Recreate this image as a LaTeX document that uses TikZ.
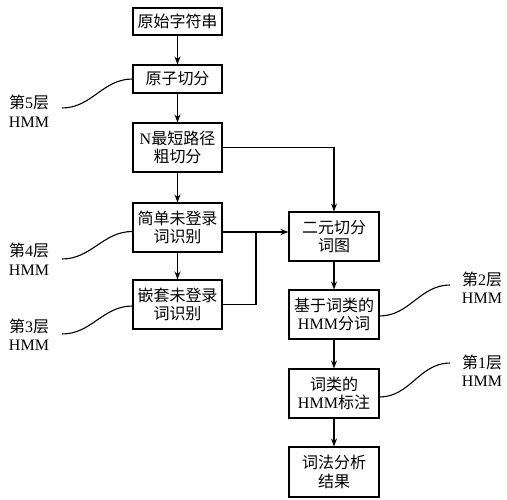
\documentclass[tikz,border=0pt]{standalone}
\usepackage{fontspec}
\setmainfont{Liberation Serif}
\newfontfamily\cjkfont{Noto Sans CJK SC}
\newcommand\zhs[1]{{\cjkfont #1}}
\usetikzlibrary{arrows.meta}
\begin{document}
\begin{tikzpicture}[x=1pt,y=-1pt,
  font=\fontsize{16}{18.5}\selectfont,
  box/.style={draw, line width=1.1pt, minimum width=89pt, inner sep=0pt, align=center},
  arr/.style={-{Stealth[length=8pt,width=6pt]}, line width=1.1pt},
  lnk/.style={line width=1.1pt},
  lab/.style={align=center, inner sep=0pt}]
\useasboundingbox (0,0) rectangle (507,500);
% left column
\node[box, minimum height=27pt] (b1) at (177.5,21.5) {\zhs{原始字符串}};
\node[box, minimum height=28pt] (b2) at (177.5,79) {\zhs{原子切分}};
\node[box, minimum height=49pt] (b3) at (177.5,147.5) {N\zhs{最短路径}\\\zhs{粗切分}};
\node[box, minimum height=49pt] (b4) at (177.5,227.5) {\zhs{简单未登录}\\\zhs{词识别}};
\node[box, minimum height=49pt] (b5) at (177.5,304.5) {\zhs{嵌套未登录}\\\zhs{词识别}};
% right column
\node[box, minimum width=90pt, minimum height=49pt] (e1) at (334,236.5) {\zhs{二元切分}\\\zhs{词图}};
\node[box, minimum width=90pt, minimum height=49pt] (e2) at (334,314.5) {\zhs{基于词类的}\\HMM\zhs{分词}};
\node[box, minimum width=90pt, minimum height=49pt] (e3) at (334,393.5) {\zhs{词类的}\\HMM\zhs{标注}};
\node[box, minimum width=90pt, minimum height=50pt] (e4) at (334,472) {\zhs{词法分析}\\\zhs{结果}};
% labels
\node[lab] (l5) at (29,111) {\zhs{第}5\zhs{层}\\HMM};
\node[lab] (l4) at (29,259) {\zhs{第}4\zhs{层}\\HMM};
\node[lab] (l3) at (29,334.5) {\zhs{第}3\zhs{层}\\HMM};
\node[lab] (l2) at (482,287.5) {\zhs{第}2\zhs{层}\\HMM};
\node[lab] (l1) at (482,370.5) {\zhs{第}1\zhs{层}\\HMM};
\coordinate (c5) at (62,108);
\coordinate (c4) at (62,259);
\coordinate (c3) at (62,334);
\coordinate (c2) at (450,285);
\coordinate (c1) at (450,363);
\coordinate (j) at (256,232);
% arrows
\draw[arr] (b1) -- (b2);
\draw[arr] (b2) -- (b3);
\draw[arr] (b3) -- (b4);
\draw[arr] (b4) -- (b5);
\draw[arr] (b3.east) -| (e1.north);
\draw[lnk] (j -| b4.east) -- (j);
\draw[arr] (j) -- (j -| e1.west);
\draw[lnk] (b5.east) -| (j);
\draw[arr] (e1) -- (e2);
\draw[arr] (e2) -- (e3);
\draw[arr] (e3) -- (e4);
% curves
\draw[lnk] (c5) to[out=0,in=180] (b2.west);
\draw[lnk] (c4) to[out=0,in=180] ([yshift=-4pt]b4.west);
\draw[lnk] (c3) to[out=0,in=180] ([yshift=-1.5pt]b5.west);
\draw[lnk] ([yshift=-1.5pt]e2.east) to[out=0,in=180] (c2);
\draw[lnk] ([yshift=-3.5pt]e3.east) to[out=0,in=180] (c1);
\end{tikzpicture}
\end{document}
